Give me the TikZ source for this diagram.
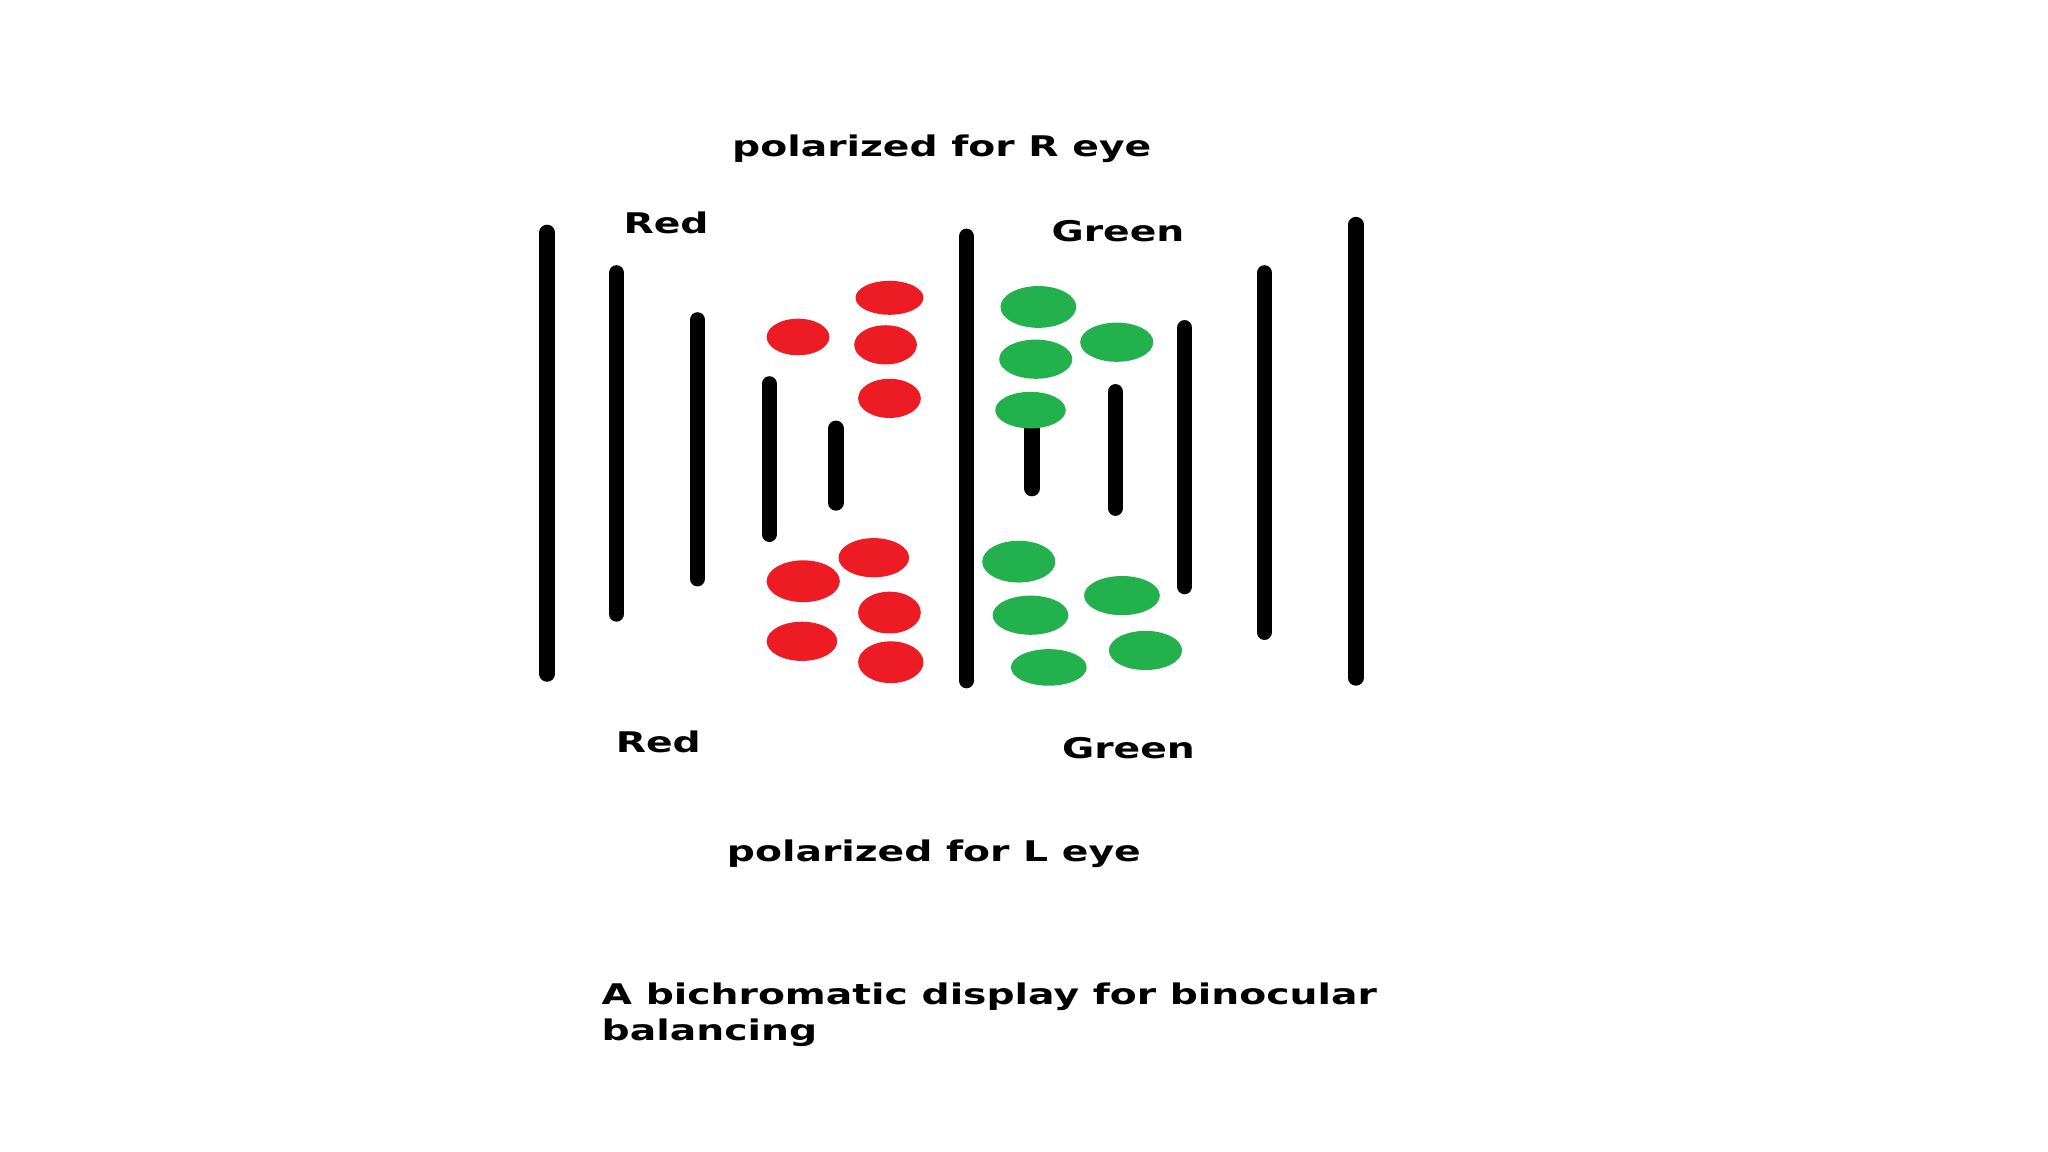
\documentclass[tikz,border=0pt]{standalone}
\usepackage{fontspec}
\setmainfont{DejaVu Sans}[FakeStretch=1.38]
\definecolor{paintred}{RGB}{237,28,36}
\definecolor{paintgreen}{RGB}{34,177,76}
\begin{document}
\begin{tikzpicture}[x=0.1mm,y=-0.1mm,every node/.style={font=\bfseries\fontsize{6.2}{7.7}\selectfont,inner sep=0pt},
  bar/.style={line width=3.4pt,line cap=round},
  reddot/.style={fill=paintred},
  greendot/.style={fill=paintgreen}]
\useasboundingbox (0,0) rectangle (1568,882);
% vertical bars
\foreach \x/\ya/\yb in {419/178/516, 472/209/470, 534/245/443, 589/294/409, 640/328/385,
  740/181/521, 790/326/374, 854/300/389, 907/251/449, 968/209/484, 1038/172/519}
  \draw[bar] (\x,\ya) -- (\x,\yb);
% red dots
\foreach \x/\y/\rx/\ry in {681/228/26/13, 611/258/24/14, 678/264/24/15, 681/305/24/15,
  669/427/27/15, 615/445/28/16, 681/469/24/16, 614/491/27/15, 682/507/25/16}
  \fill[reddot] (\x,\y) ellipse [x radius=\rx, y radius=\ry];
% green dots
\foreach \x/\y/\rx/\ry in {795/235/29/16, 855/262/28/15, 793/275/28/15, 789/314/27/14,
  780/430/28/16, 859/456/29/15, 789/471/29/15, 877/498/28/15, 803/511/29/14}
  \fill[greendot] (\x,\y) ellipse [x radius=\rx, y radius=\ry];
% labels
\node (reye) at (721,114) {polarized for R eye};
\node (redtop) at (510,171) {Red};
\node (greentop) at (856,177) {Green};
\node (redbot) at (504,568) {Red};
\node (greenbot) at (864,573) {Green};
\node (leye) at (715,654) {polarized for L eye};
\node[anchor=north west,align=left] (caption) at (460,752) {A bichromatic display for binocular\\balancing};
\end{tikzpicture}
\end{document}
